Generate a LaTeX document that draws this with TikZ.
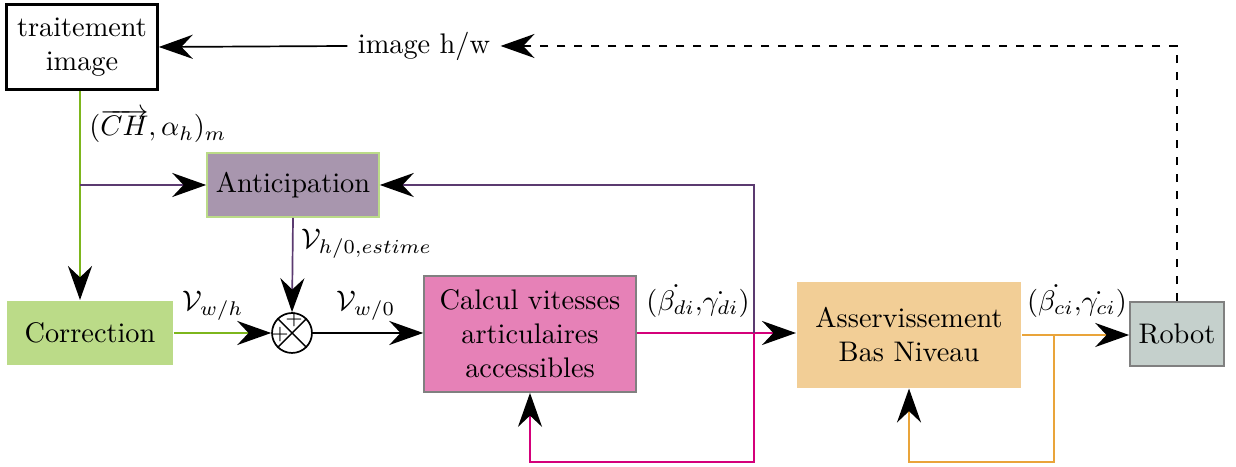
\documentclass[tikz,border=0pt]{standalone}
\usetikzlibrary{arrows.meta}
\definecolor{gline}{HTML}{7DB61C}
\definecolor{pline}{HTML}{5B3A70}
\definecolor{mline}{HTML}{D4007A}
\definecolor{oline}{HTML}{E9A43A}
\definecolor{anticfill}{HTML}{A896AE}
\definecolor{corrfill}{HTML}{BBDB88}
\definecolor{calcfill}{HTML}{E681B7}
\definecolor{assfill}{HTML}{F2CE96}
\definecolor{robfill}{HTML}{C5D0CC}
\begin{document}
\begin{tikzpicture}[x=0.353pt,y=-0.353pt,
  >={Stealth[length=12pt,width=8.5pt,inset=4pt,color=black]},
  blk/.style={rectangle,inner sep=0pt,align=center},
  conn/.style={line width=0.6pt},
  lbl/.style={inner sep=1pt}]
\useasboundingbox (0,0) rectangle (1236,467);
% blocks
\node[blk,draw=black,line width=0.9pt,minimum width=53.3pt,minimum height=30pt] (trait) at (82,47) {traitement\\image};
\node[blk,fill=anticfill,draw=corrfill,line width=0.6pt,minimum width=60.7pt,minimum height=22.6pt] (antic) at (293,185) {Anticipation};
\node[blk,fill=corrfill,minimum width=58.6pt,minimum height=22.9pt] (corr) at (90,333) {Correction};
\node[circle,draw=black,line width=0.6pt,minimum size=14.1pt,inner sep=0pt] (sum) at (292,333) {};
\node[blk,fill=calcfill,draw=gray,line width=0.6pt,minimum width=74.8pt,minimum height=41pt] (calc) at (530,334) {Calcul vitesses\\articulaires\\accessibles};
\node[blk,fill=assfill,minimum width=79.4pt,minimum height=37.4pt] (ass) at (909,335) {Asservissement\\Bas Niveau};
\node[blk,fill=robfill,draw=gray,line width=0.6pt,minimum width=33.2pt,minimum height=22.6pt] (rob) at (1177,334) {Robot};
\node[inner sep=3.5pt] (img) at (424,46) {image h/w};
% summation cross
\draw[line width=0.5pt] (sum.north west) -- (sum.south east) (sum.north east) -- (sum.south west);
\node[font=\scriptsize,inner sep=0pt] (plus1) at (294,320) {$+$};
\node[font=\scriptsize,inner sep=0pt] (plus2) at (280,335) {$+$};
% coordinates
\coordinate (c1) at (80,185);
\coordinate (p1) at (754,333);
\coordinate (o1) at (1054,335);
% connectors
\draw[conn,->] (img.west) -- (trait.east);
\draw[conn,dashed,->] (rob.north) -- (rob.north |- img) -- (img.east);
\draw[conn,gline,->] (trait.south -| c1) -- (corr.north -| c1);
\draw[conn,pline,->] (c1) -- (antic.west);
\draw[conn,gline,->] (corr.east) -- (sum.west);
\draw[conn,pline,->] (antic.south) -- (sum.north);
\draw[conn,->] (sum.east) -- (calc.west |- sum);
\draw[conn,mline,->] (calc.east |- p1) -- (ass.west |- p1);
\draw[conn,mline,->] (p1) -- (754,462) -| (calc.south);
\draw[conn,pline,->] (p1) -- (754,185) -- (antic.east);
\draw[conn,oline,->] (ass.east |- o1) -- (rob.west |- o1);
\draw[conn,oline,->] (o1) -- (1054,462) -| (ass.south);
% labels
\node[lbl,anchor=west] (lch) at (86,126) {$(\overrightarrow{CH},\alpha_h)_m$};
\node[lbl,anchor=west] (lvh) at (298,244) {$\mathcal{V}_{h/0,estime}$};
\node[lbl] (lvwh) at (213,306) {$\mathcal{V}_{w/h}$};
\node[lbl] (lvw0) at (366,306) {$\mathcal{V}_{w/0}$};
\node[lbl] (lbd) at (698,301) {$(\dot{\beta_{di}}{,}\dot{\gamma_{di}})$};
\node[lbl] (lbc) at (1077,301) {$(\dot{\beta_{ci}}{,}\dot{\gamma_{ci}})$};
\end{tikzpicture}
\end{document}
